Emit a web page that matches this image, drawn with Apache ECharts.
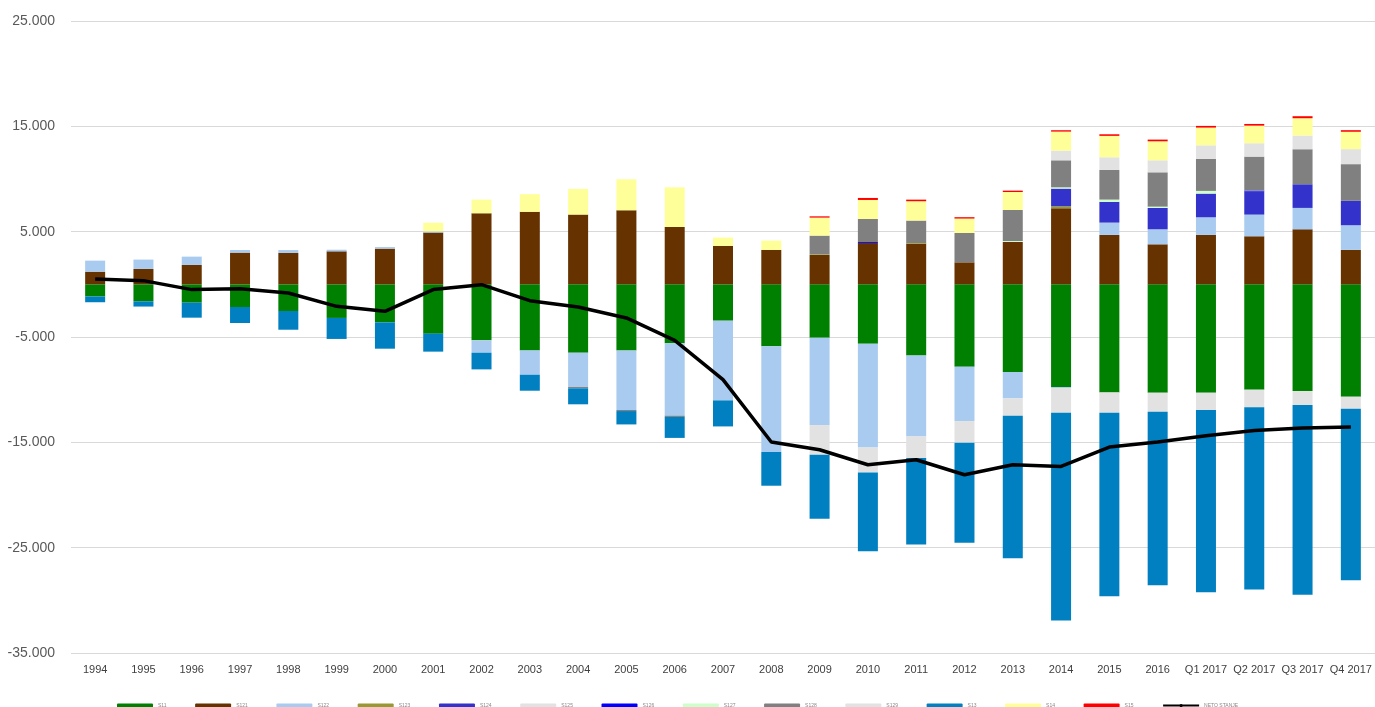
<!DOCTYPE html>
<html>
<head>
<meta charset="utf-8">
<script src="https://cdn.jsdelivr.net/npm/echarts@6/dist/echarts.min.js"></script>
<style>
    * {
        margin: 0;
        padding: 0;
    }
    #main {
        width: 1375px;
        height: 707px;
        background: #fff;
    }
</style>
</head>
<body>
<div id="main"></div>
<script>
    let categories = ['1994', '1995', '1996', '1997', '1998', '1999', '2000', '2001', '2002', '2003', '2004',
        '2005', '2006', '2007', '2008', '2009', '2010', '2011', '2012', '2013', '2014', '2015', '2016',
        'Q1 2017', 'Q2 2017', 'Q3 2017', 'Q4 2017']
    let yTicks = [-35000, -25000, -15000, -5000, 5000, 15000, 25000]

    let s11 = [-1150, -1610, -1740, -2150, -2530, -3190, -3610, -4680, -5320, -6270, -6490, -6270, -5600, -3450,
        -5890, -5065, -5635, -6745, -7820, -8320, -9750, -10260, -10290, -10290, -10000, -10130, -10670]
    let s121 = [1200, 1460, 1840, 3010, 2980, 3135, 3390, 4910, 6745, 6880, 6620, 7030, 5450, 3650,
        3270, 2790, 3930, 3865, 2090, 4030, 7220, 4690, 3800, 4690, 4560, 5225, 3270]
    let s122 = [1050, 890, 790, 250, 270, 150, 150, 120, -1170, -2310, -3260, -5660, -6870, -7570,
        -10030, -8295, -9850, -7695, -5160, -2510, -100, 1170, 1425, 1675, 2060, 2030, 2340]
    let s123 = [0, 0, 0, 0, 0, 0, 0, 0, 0, 0, 0, 0, 0, 0,
        0, 60, 0, 60, 0, 0, 190, 0, 0, 0, 0, 0, 0]
    let s124 = [0, 0, 0, 0, 0, 0, 0, 0, 0, 0, 0, 0, 0, 0,
        0, 0, 0, 0, 0, 0, 1680, 1965, 2030, 2250, 2185, 2245, 2320]
    let s125 = [0, 0, 0, 0, 0, 0, 0, 0, 0, 0, 0, 0, 0, 0,
        0, -2820, -2375, -2050, -2060, -1645, -2345, -1930, -1805, -1645, -1680, -1330, -1140]
    let s126 = [0, 0, 0, 0, 0, 0, 0, 0, 0, 0, 0, 0, 0, 0,
        0, 0, 90, 0, 0, 0, 0, 0, 0, 0, 90, 0, 0]
    let s127 = [0, 0, 0, 0, 0, 0, 0, 0, 0, 0, 0, 0, 0, 0,
        0, 0, 0, 0, 0, 80, 120, 220, 120, 255, 0, 0, 0]
    let s128 = [0, 0, 0, 0, 0, 0, 0, 0, 0, 0, -120, -100, -120, 0,
        0, 1775, 2185, 2130, 2785, 2945, 2565, 2820, 3260, 3040, 3230, 3325, 3480]
    let s129 = [0, 0, 0, 0, 0, 0, 0, 0, 0, 0, 0, 0, 0, 0,
        0, 0, 0, 0, 0, 0, 920, 1200, 1140, 1290, 1270, 1300, 1425]
    let s13 = [-550, -500, -1425, -1520, -1780, -1995, -2500, -1710, -1585, -1520, -1520, -1270, -1990, -2470,
        -3200, -6080, -7470, -8210, -9500, -13520, -19730, -17415, -16465, -17290, -17290, -18020, -16275]
    let s14 = [0, 0, 0, 0, 0, 0, 0, 820, 1300, 1680, 2440, 2945, 3760, 790,
        880, 1710, 1805, 1835, 1370, 1710, 1805, 2030, 1805, 1680, 1670, 1645, 1650]
    let s15 = [0, 0, 0, 0, 0, 0, 0, 0, 0, 0, 0, 0, 0, 0,
        0, 120, 190, 150, 130, 130, 130, 150, 160, 160, 160, 190, 150]
    let netoStanje = [510, 350, -500, -410, -820, -2090, -2565, -500, -30, -1550, -2150, -3190, -5320, -9050,
        -14970, -15700, -17130, -16650, -18080, -17130, -17290, -15450, -14970, -14375, -13870, -13640, -13550]

    let bars = [
        {name: 'S11', data: s11, color: '#008000'},
        {name: 'S121', data: s121, color: '#663300'},
        {name: 'S122', data: s122, color: '#A9CBF0'},
        {name: 'S123', data: s123, color: '#999933'},
        {name: 'S124', data: s124, color: '#3333CC'},
        {name: 'S125', data: s125, color: '#E2E2E2'},
        {name: 'S126', data: s126, color: '#0000FF'},
        {name: 'S127', data: s127, color: '#CCFFCC'},
        {name: 'S128', data: s128, color: '#808080'},
        {name: 'S129', data: s129, color: '#E2E2E2'},
        {name: 'S13', data: s13, color: '#0080C0'},
        {name: 'S14', data: s14, color: '#FFFF99'},
        {name: 'S15', data: s15, color: '#FF0000'}
    ]

    function fmt(v) {
        let s = Math.abs(v).toString().replace(/\B(?=(\d{3})+(?!\d))/g, '.')
        return (v < 0 ? '-' : '') + s
    }

    let series = bars.map(function (b) {
        return {
            name: b.name,
            type: 'bar',
            stack: 'total',
            barWidth: 20,
            itemStyle: {color: b.color},
            emphasis: {disabled: true},
            data: b.data
        }
    })
    series.push({
        name: 'NETO STANJE',
        type: 'line',
        symbol: 'none',
        z: 10,
        lineStyle: {color: '#000', width: 3.5},
        itemStyle: {color: '#000'},
        data: netoStanje
    })

    let legendData = bars.map(function (b) { return b.name })
    legendData.push({name: 'NETO STANJE', lineStyle: {width: 2}})

    let chart = echarts.init(document.getElementById('main'))
    let option = {
        animation: false,
        grid: {left: 71, right: -5, top: 21, bottom: 54, containLabel: false},
        legend: {
            data: legendData,
            left: 112,
            top: 698,
            itemWidth: 36,
            itemHeight: 4,
            itemGap: 28.6,
            textStyle: {
                fontSize: 5,
                color: '#888',
                fontFamily: 'Liberation Sans'
            }
        },
        xAxis: {
            type: 'category',
            data: categories,
            axisLine: {show: false},
            axisTick: {show: false},
            axisLabel: {
                interval: 0,
                margin: 11,
                fontSize: 11,
                color: '#404040',
                fontFamily: '"Liberation Sans Narrow", "Liberation Sans", sans-serif'
            }
        },
        yAxis: {
            type: 'value',
            min: yTicks[0],
            max: yTicks[yTicks.length - 1],
            interval: yTicks[1] - yTicks[0],
            axisLine: {show: false},
            axisTick: {show: false},
            splitLine: {lineStyle: {color: '#D9D9D9', width: 1}},
            axisLabel: {
                margin: 16,
                fontSize: 14,
                color: '#595959',
                fontFamily: '"Liberation Sans", sans-serif',
                formatter: fmt
            }
        },
        series: series
    }
    chart.setOption(option)
</script>
</body>
</html>
